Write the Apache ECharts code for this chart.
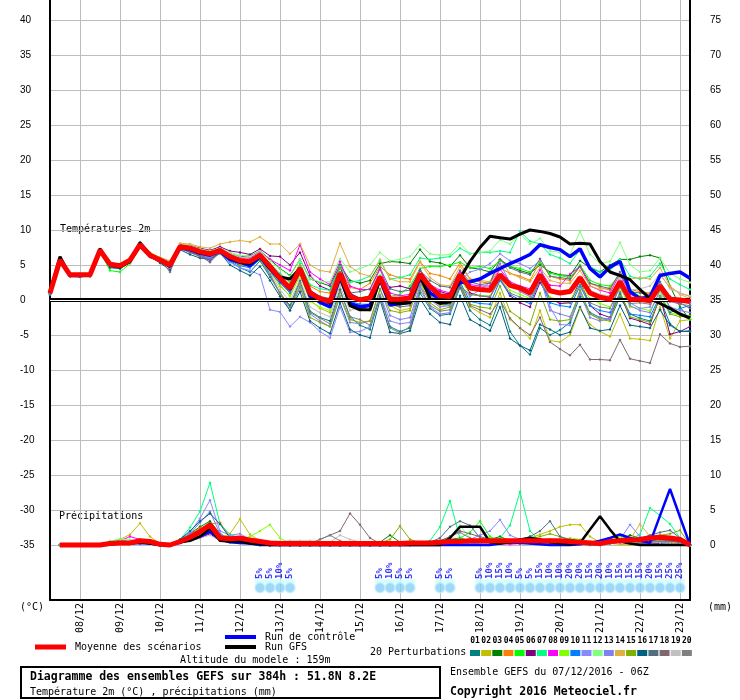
<!DOCTYPE html>
<html>
<head>
<meta charset="utf-8">
<script src="https://cdn.jsdelivr.net/npm/echarts@6/dist/echarts.min.js"></script>
<style>
html,body{margin:0;padding:0;background:#fff;}
#chart{width:740px;height:700px;}
</style>
</head>
<body>
<div id="chart"></div>
<script>
// ========= données =========
const dayLabels = ['07/12','08/12','09/12','10/12','11/12','12/12','13/12','14/12','15/12',
                   '16/12','17/12','18/12','19/12','20/12','21/12','22/12','23/12'];
const tempTicks = [-35,-30,-25,-20,-15,-10,-5,0,5,10,15,20,25,30,35,40];
const rainTicks = [0,5,10,15,20,25,30,35,40,45,50,55,60,65,70,75];

// couleurs des 20 perturbations
const pertColors = ['#008080','#c0c000','#008000','#ff8000','#00ff00','#800080','#00ff80','#ff00ff','#80ff00','#0080ff',
                    '#8888ff','#80ff80','#8080ee','#e0b040','#80b000','#006080','#507080','#806870','#c0c0c0','#808080'];

// température 2m (pas de 6h, 07/12 06Z -> 23/12 06Z)
const tMean = [1.0,5.7,3.6,3.6, 3.6,7.1,5.1,4.9, 5.7,7.9,6.4,5.7, 5.0,7.6,7.4,6.9, 6.6,7.1,6.2,5.6, 5.5,6.4,4.8,3.1,
  1.7,4.5,1.0,0.2, -0.2,3.8,0.5,0.0, 0.3,3.3,0.1,0.1, 0.3,3.7,1.9,0.6, 0.5,3.6,1.7,1.5, 1.4,3.6,2.1,1.7,
  1.0,3.6,1.3,1.0, 1.2,3.2,1.0,0.4, 0.1,2.6,0.1,0.1, -0.1,2.0,0.1,0.0, -0.2];
const tGfs = [1.0,6.2,3.5,3.5, 3.5,7.3,5.0,4.7, 5.5,8.2,6.5,5.6, 4.8,7.7,7.3,6.7, 6.5,7.0,6.0,5.4, 5.2,6.3,4.5,3.3,
  3.0,4.5,1.2,0.3, -0.5,3.5,-0.8,-1.4, -1.4,3.0,-0.4,-0.5, -0.4,3.5,0.2,-0.5, -0.3,3.1,5.5,7.5, 9.1,8.9,8.7,9.4,
  10.0,9.8,9.5,9.0, 8.0,8.1,8.0,5.5, 4.0,3.5,2.9,1.5, 0.2,-0.5,-1.2,-2.0, -2.6];
const tCtrl = [1.0,5.8,3.5,3.5, 3.6,7.0,5.2,4.8, 5.6,7.8,6.3,5.7, 5.0,7.5,7.2,6.7, 6.4,7.0,5.8,5.4, 4.9,6.2,4.5,2.9,
  1.5,4.3,0.6,-0.3, -1.0,3.3,-0.5,-1.0, -0.8,3.0,-0.7,-0.5, -0.3,3.2,1.0,0.2, 0.8,2.5,2.6,3.0, 3.8,4.5,5.2,5.8,
  6.5,7.9,7.5,7.2, 6.2,7.3,4.5,3.3, 4.7,5.5,1.2,0.2, 0.4,3.5,3.8,4.0, 3.1];

const t01 = [0.7,5.5,3.4,3.3,3.4,6.8,4.6,4.5,5.4,7.6,6.1,5.5,4.6,7.3,6.9,6.4,6.0,6.7,
  5.5,4.6,4.0,5.6,3.3,1.0,-0.8,2.8,-1.6,-2.5,-3.0,1.5,-2.4,-3.6,-4.2,0.5,-3.8,-4.5,-4.0,1.0,-1.2,-2.2,-2.0,
  1.8,-1.5,-2.8,-3.6,0.2,-4.5,-6.5,-7.8,-4.0,-5.0,-4.3,-3.2,0.5,-1.8,-2.5,-2.8,0.4,-2.0,-2.6,-3.0,0.2,-3.4,-4.5,-4.5];
const t02 = [1.2,5.9,3.8,3.7,3.8,7.3,5.3,5.0,5.9,8.1,6.6,5.9,5.2,7.8,7.5,7.1,6.8,7.3,
  6.5,6.0,5.7,6.5,4.2,2.0,0.6,3.5,0.0,-1.2,-1.8,2.5,-0.5,-1.0,-1.5,2.8,-0.8,-1.5,-1.2,2.5,0.4,-0.9,-0.6,
  2.4,-1.0,-1.8,-2.5,1.0,-2.8,-4.0,-5.5,-1.5,-5.8,-6.0,-5.0,-1.2,-3.5,-4.5,-5.2,-2.0,-5.5,-5.6,-5.8,-1.0,-5.5,-3.0,-2.8];
const t03 = [1.0,5.6,3.5,3.5,3.5,7.0,4.8,4.7,5.6,7.8,6.4,5.8,5.1,7.7,7.6,7.0,6.8,7.3,
  6.6,6.2,6.3,7.0,5.8,4.5,3.5,5.8,3.0,2.5,2.0,5.0,2.8,2.4,2.8,5.2,5.5,5.4,5.2,7.2,5.5,5.3,4.8,
  6.4,4.6,4.4,4.0,5.8,4.8,4.2,3.8,5.0,4.0,3.6,3.5,5.6,4.6,4.0,5.0,5.8,5.8,6.2,6.4,6.0,2.0,-1.0,-2.8];
const t04 = [0.9,5.7,3.7,3.6,3.7,7.2,5.2,4.9,5.8,7.9,6.5,5.8,5.1,7.6,7.3,6.9,6.7,7.2,
  6.4,5.9,5.6,6.6,5.0,3.6,2.5,5.0,2.0,1.2,1.0,4.6,1.8,1.5,2.4,4.8,3.6,3.2,3.0,5.5,3.8,3.5,3.0,
  5.3,3.0,2.6,2.4,4.6,3.8,3.4,2.8,5.5,3.4,3.0,2.8,4.8,2.4,1.8,1.4,4.0,1.5,1.2,1.0,3.6,1.8,1.0,0.5];
const t05 = [1.1,5.6,3.4,3.4,3.5,6.9,4.2,4.0,5.2,7.5,6.3,5.6,4.9,7.5,7.4,6.9,6.5,7.0,
  6.0,5.4,5.3,6.2,4.6,3.0,1.5,4.3,0.8,0.0,-0.4,3.8,0.8,0.3,0.6,3.5,0.5,0.8,2.0,4.5,4.8,4.8,5.0,
  5.4,4.6,4.8,4.5,5.6,4.8,4.5,4.0,5.3,3.8,3.5,3.2,5.0,2.8,2.2,2.0,3.6,1.5,0.5,0.2,1.8,-1.2,-2.0,-2.8];
const t06 = [1.0,5.8,3.6,3.5,3.6,7.1,5.1,5.0,5.8,8.0,6.6,6.0,5.4,7.9,7.8,7.4,7.1,7.6,
  7.0,6.8,6.5,7.3,6.3,6.2,5.0,6.8,3.5,2.0,1.4,4.8,1.0,0.2,0.5,3.2,1.8,2.0,1.6,4.2,2.0,1.2,0.8,
  3.4,1.0,0.6,0.4,3.0,0.6,-0.4,-1.0,2.5,0.2,-0.5,-0.4,2.8,-0.8,-2.0,-2.5,1.0,-2.6,-3.0,-3.5,0.5,-4.9,-4.5,-3.8];
const t07 = [1.1,5.9,3.7,3.7,3.7,7.2,5.3,5.1,5.9,8.2,6.7,6.0,5.3,7.8,7.6,7.1,6.8,7.2,
  6.4,5.8,5.8,6.7,5.2,3.8,2.6,5.2,2.2,1.6,1.4,4.8,2.5,2.8,3.4,5.6,3.0,3.2,3.6,6.0,5.8,6.0,6.2,
  7.4,6.6,6.8,6.8,7.0,6.8,9.8,8.4,8.0,6.5,6.0,5.2,7.2,4.8,4.0,4.2,5.8,3.4,3.0,3.4,5.2,3.0,2.2,1.5];
const t08 = [0.9,5.7,3.6,3.5,3.6,7.0,5.0,4.8,5.6,7.8,6.3,5.6,4.5,7.4,7.1,6.5,5.6,7.0,
  6.2,6.0,6.0,6.9,5.8,5.0,4.2,7.9,4.0,3.0,2.2,5.5,2.0,1.5,1.5,4.4,1.0,0.6,0.8,4.3,2.2,1.4,1.0,
  4.0,2.2,2.0,2.0,4.4,2.6,2.0,1.6,4.3,2.1,2.0,3.7,4.8,2.0,1.4,1.0,3.8,0.8,0.4,0.0,2.0,-0.2,-0.4,-0.3];
const t09 = [1.0,5.6,3.5,3.6,3.5,7.0,5.0,4.9,5.7,7.9,6.3,5.6,5.0,7.6,7.5,7.0,6.7,7.2,
  6.3,5.5,5.3,6.1,4.2,2.2,0.5,3.6,-0.2,-1.0,-1.5,2.8,-0.5,-0.8,-0.7,2.8,-0.7,-0.8,-0.4,3.0,1.0,0.0,-0.2,
  3.0,0.8,0.6,0.6,3.0,1.4,0.8,0.2,2.8,0.4,0.0,0.0,2.2,0.2,-0.5,-1.0,1.8,-1.0,-1.2,-1.5,1.2,-1.8,-2.2,-2.6];
const t10 = [1.0,5.7,3.5,3.5,3.6,7.1,5.1,4.9,5.6,7.8,6.3,5.5,4.8,7.4,7.0,6.4,6.0,6.6,
  5.6,4.9,4.6,5.8,4.0,2.4,1.0,4.0,0.4,-0.5,-1.0,3.2,-0.2,-0.6,-0.6,3.0,-0.5,-0.7,-0.5,3.4,1.2,-0.4,-0.8,
  2.6,-0.2,-0.5,-0.6,2.8,0.8,0.0,-0.5,2.8,-0.4,-0.8,-1.0,2.0,-0.8,-1.5,-1.8,1.0,-2.0,-2.2,-2.4,0.6,-1.8,-1.2,-0.8];
const t11 = [0.8,5.5,3.4,3.4,3.5,6.9,4.9,4.7,5.5,7.7,6.2,5.4,4.6,7.2,6.9,6.5,6.0,6.6,
  5.4,4.6,4.2,3.6,-1.4,-1.7,-3.8,-2.4,-3.2,-4.5,-5.4,-1.0,-4.6,-4.5,-3.8,0.8,-3.0,-3.4,-3.2,1.8,0.0,-1.0,-0.8,
  2.8,4.0,4.4,5.2,6.6,5.6,5.2,4.5,5.6,-1.0,-3.5,-3.6,1.5,-2.0,-2.6,-2.8,3.8,-0.4,-1.2,-1.0,2.4,0.5,0.0,-0.5];
const t12 = [1.2,5.9,3.8,3.8,3.8,7.3,5.3,5.1,6.0,8.2,6.8,6.1,5.5,8.0,7.8,7.3,7.0,7.4,
  6.8,6.4,6.2,7.0,5.6,4.4,3.4,5.8,3.0,2.6,2.6,5.9,4.0,4.5,5.0,6.8,5.6,5.8,6.2,7.9,6.6,6.4,6.5,
  8.1,6.6,6.8,7.0,8.6,8.0,9.5,8.0,8.8,7.0,6.8,6.5,9.8,6.5,5.2,5.5,8.2,5.0,4.0,4.2,6.0,3.8,3.0,2.5];
const t13 = [0.9,5.6,3.5,3.4,3.4,6.8,4.8,4.6,5.4,7.6,6.2,5.5,4.8,7.3,7.0,6.5,6.2,6.8,
  5.8,5.0,4.8,5.9,3.5,1.0,-1.5,1.8,-2.0,-3.0,-3.8,0.5,-3.2,-3.4,-3.0,1.6,-2.2,-2.8,-2.5,2.0,-1.0,-2.0,-1.8,
  2.0,0.5,1.5,2.5,5.2,2.5,1.2,0.5,3.3,-1.5,-2.0,-2.4,1.0,-2.5,-3.0,-2.6,2.8,-0.8,-1.5,-1.8,1.4,-1.0,-1.5,-1.8];
const t14 = [1.1,5.8,3.7,3.7,3.7,7.2,5.2,5.0,5.9,8.1,6.7,6.1,5.6,8.1,8.0,7.6,7.4,8.0,
  8.3,8.5,8.3,9.0,8.0,8.0,6.6,8.0,5.0,4.2,4.0,8.1,4.8,3.8,3.4,5.8,3.0,2.6,2.6,5.4,3.2,2.2,2.0,
  4.8,3.0,2.8,2.6,5.8,3.8,3.2,2.6,4.6,2.8,2.4,2.4,4.2,2.0,1.5,1.8,3.6,3.0,3.2,3.0,4.6,2.0,0.8,0.2];
const t15 = [1.0,5.6,3.5,3.5,3.5,7.0,4.9,4.8,5.6,7.8,6.4,5.7,5.0,7.5,7.3,6.8,6.5,7.0,
  5.9,5.0,4.9,5.8,3.8,0.8,-1.0,2.0,-2.5,-3.2,-3.8,0.6,-2.8,-3.2,-3.0,1.5,-1.5,-1.8,-1.5,2.4,-0.4,-1.4,-1.0,
  2.2,-0.6,-1.0,-1.2,2.0,-1.6,-2.6,-3.5,1.0,-2.8,-3.0,-2.8,1.4,-2.0,-2.8,-3.0,1.2,-2.4,-2.8,-3.2,0.5,-2.0,-2.4,-2.2];
const t16 = [0.8,5.5,3.4,3.4,3.4,6.9,4.7,4.5,5.4,7.7,6.2,5.3,4.3,7.2,6.5,6.0,5.8,6.8,
  5.0,4.2,3.5,4.8,2.8,0.5,-1.5,1.2,-3.0,-4.0,-4.8,-0.4,-4.2,-5.0,-5.4,0.0,-4.6,-4.8,-4.4,0.2,-2.0,-3.2,-3.5,
  0.6,-2.8,-3.6,-4.4,-1.0,-5.5,-6.5,-7.2,-3.5,-4.2,-5.0,-4.6,-1.0,-4.0,-4.4,-4.2,-0.8,-3.6,-3.8,-4.0,-1.4,-3.6,-4.5,-4.4];
const t17 = [1.0,5.7,3.6,3.6,3.6,7.1,5.0,4.8,5.6,7.9,6.4,5.6,4.8,7.4,6.8,6.3,5.4,6.8,
  6.0,5.5,5.4,6.5,4.8,3.3,1.8,4.6,1.2,0.5,0.2,4.0,1.0,1.2,1.6,4.6,1.6,1.2,1.4,4.2,2.8,2.0,1.8,
  4.2,2.6,2.2,2.4,5.8,4.6,4.0,3.6,5.9,3.4,3.2,3.0,4.8,2.4,2.0,1.6,4.0,1.2,1.0,0.8,2.6,0.4,-0.4,-1.2];
const t18 = [0.9,5.8,3.6,3.6,3.6,7.1,5.1,4.9,5.7,8.0,6.5,5.8,4.0,7.5,6.8,6.2,5.8,7.0,
  6.0,5.4,5.2,6.3,4.6,2.8,1.2,4.0,0.4,-0.4,-1.0,3.2,-0.4,-0.8,-0.6,2.6,-0.6,-1.0,-0.8,2.6,0.6,-0.2,-0.4,
  2.0,-0.8,-1.4,-2.0,0.0,-2.6,-4.0,-5.0,-2.5,-6.0,-7.0,-7.9,-6.4,-8.5,-8.5,-8.6,-5.7,-8.4,-8.7,-9.0,-4.9,-6.2,-6.7,-6.6];
const t19 = [1.0,5.7,3.6,3.5,3.6,7.0,5.0,4.9,5.7,7.8,6.3,5.6,5.0,7.6,7.2,6.8,6.6,7.1,
  6.6,6.2,5.8,6.4,4.0,1.5,-0.2,3.0,-1.0,-1.8,-2.4,2.0,-1.5,-1.0,-0.8,3.0,0.4,0.4,0.6,3.6,1.8,0.4,0.2,
  3.4,1.6,1.4,1.2,3.4,2.2,1.8,1.2,3.8,1.5,1.2,1.5,3.4,1.4,0.8,0.6,3.0,1.4,1.6,2.0,3.8,1.6,1.0,0.6];
const t20 = [1.0,5.9,3.6,3.6,3.6,7.2,5.1,5.0,5.8,8.3,6.6,5.9,5.2,7.7,7.3,6.8,6.5,7.0,
  5.8,5.2,5.0,6.2,3.6,1.0,-1.0,2.5,-1.8,-2.6,-3.4,1.2,-2.4,-2.8,-3.6,0.6,-4.0,-4.7,-3.8,1.4,-0.8,-1.6,-1.4,
  2.0,0.8,0.6,0.5,3.0,1.0,0.4,0.0,2.8,0.2,-0.2,-0.4,2.2,-0.4,-1.0,-1.2,1.8,-0.5,-0.4,-0.6,2.2,-0.2,-0.6,-0.8];

// précipitations (mm / 6h), 13 valeurs par ligne
const pMean = [null,0,0,0,0,0,0.2,0.3,0.3,0.6,0.5,0.1,0,
  0.5,1.1,1.9,2.9,1.0,0.9,1.0,0.7,0.5,0.3,0.2,0.2,0.2,
  0.2,0.2,0.2,0.2,0.2,0.2,0.2,0.2,0.2,0.2,0.3,0.3,0.3,
  0.4,0.5,0.5,0.6,0.6,0.6,0.6,0.6,0.6,0.6,0.6,0.6,0.6,
  0.5,0.4,0.3,0.2,0.5,0.6,0.7,0.8,1.0,1.1,1.0,0.8,0];
const pGfs = [null,0,0,0,0,0,0.1,0.2,0.2,0.4,0.2,0,0,
  0.4,0.6,1.2,2.4,0.6,0.5,0.5,0.2,0.1,0,0,0,0,
  0,0,0,0,0,0,0,0,0,0,0,0,0,
  0,1.0,2.6,2.6,2.6,0.4,0.2,0.4,0.8,1.0,0.8,0.4,0.2,
  0.1,0.3,2.2,4.1,2.2,0.5,0.2,0,0,0,0,0,0];
const pCtrl = [null,0,0,0,0,0,0.1,0.2,0.2,0.3,0.2,0,0,
  0.3,0.8,1.2,1.9,0.8,0.4,0.3,0.2,0,0,0,0,0,
  0,0,0,0,0,0,0,0,0,0,0,0,0,
  0,0,0,0,0,0,0.2,0.4,0.3,0.2,0.1,0,0,
  0,0.1,0.3,0.6,1.0,1.5,1.0,0.6,0.3,4.2,8.0,4.0,0];

const p01 = [null,0,0,0,0,0,0.2,0.4,0.3,0.6,0.4,0,0, 0.5,1.2,2.0,3.2,1.2,0.8,0.8,0.5,0.3,0.2,0,0,0,
  0,0,0,0,0.3,0.2,0,0,0,0,0.4,0.3,0.2, 0.5,0.4,0.6,0.3,0.2,0.4,0.8,0.6,0.5,1.2,0.8,0.4,0.4, 0.3,0.2,0.1,0,0.4,0.6,0.8,0.6,0.8,1.2,0.6,0.4,0];
const p02 = [null,0,0,0,0,0,0.3,0.8,1.5,3.1,1.2,0.2,0, 0.6,1.5,2.4,2.0,1.0,1.6,3.7,1.5,0.6,0.2,0,0,0,
  0,0,0,0,0,0,0,0,0,0,0.2,0.1,0, 0.2,0.6,0.4,0.3,0.5,0.8,0.4,0.2,0.6,1.0,1.5,2.0,2.6, 2.9,2.9,1.2,0.4,0.2,0.1,0,0.3,0.6,0.4,0.2,0.2,0];
const p03 = [null,0,0,0,0,0,0.2,0.3,0.2,0.5,0.3,0,0, 0.8,1.6,2.6,3.4,1.6,0.8,0.6,0.4,0.2,0,0,0,0,
  0,0,0,0,0,0,0,0.4,1.4,0.4,0.2,0.3,0.2, 0.4,0.8,1.0,0.6,0.4,0.8,1.2,0.6,0.3,0.2,0.4,0.8,0.5, 0.3,0.2,0.2,0.1,0.4,0.8,1.4,1.0,0.5,0.3,0.2,0.1,0];
const p04 = [null,0,0,0,0,0,0.4,0.6,0.3,0.4,0.3,0,0, 0.6,1.4,2.4,3.0,3.2,1.2,0.8,0.4,0.2,0,0,0,0,
  0,0,0,0,0,0,0,0,0,0,0,0.2,0.1, 0.2,0.4,0.5,0.3,0.3,0.6,0.4,0.3,0.2,0.4,0.5,0.3,0.2, 0.2,0.3,0.4,0.2,0.3,0.8,0.5,0.3,0.6,0.8,0.5,0.3,0];
const p05 = [null,0,0,0,0,0,0.5,0.8,0.4,0.3,0.2,0,0, 0.4,1.0,1.8,2.6,1.0,0.6,0.5,0.3,0.1,0,0,0,0,
  0,0,0,0,0,0,0,0,0,0,0.2,0.4,0.3, 0.2,0.5,1.0,1.8,3.4,1.2,0.6,0.3,0.2,0.3,0.4,0.6,0.4, 0.3,0.2,0.1,0.2,0.5,0.6,0.8,1.0,0.6,0.4,0.3,0.4,0];
const p06 = [null,0,0,0,0,0,0.2,0.3,0.4,0.3,0.2,0,0, 0.3,0.6,1.0,1.6,0.6,0.4,0.3,0.2,0,0,0,0,0,
  0,0,0,0,0,0,0,0,0,0,0.1,0.2,0.1, 0.2,0.3,0.4,0.6,0.5,0.8,0.4,0.2,0.3,0.5,0.3,0.2,0.5, 0.8,0.6,0.4,0.2,0.3,0.5,0.6,0.4,0.3,0.2,0.4,0.3,0];
const p07 = [null,0,0,0,0,0,0.3,0.5,0.4,0.6,0.4,0,0, 0.8,2.5,4.8,8.9,3.0,1.5,1.0,0.6,0.3,0.1,0,0,0,
  0,0,0,0,0,0,0,0,0,0,0.2,0.4,0.6, 2.6,6.3,0.9,0.5,0.4,0.6,1.0,2.8,7.6,2.0,0.6,0.4,0.5, 0.4,0.3,0.2,0.1,0.3,0.5,0.8,1.5,5.3,4.2,3.0,1.0,0];
const p08 = [null,0,0,0,0,0,0.2,0.6,1.2,0.8,0.3,0,0, 0.3,0.8,1.2,1.8,0.8,0.6,0.5,0.3,0.1,0,0,0,0,
  0,0,0,0,0,0,0,0,0,0,0,0.1,0.2, 0.3,0.2,0.1,0.2,0.4,0.3,0.2,0.1,0.2,0.3,0.2,0.1,0.2, 0.3,0.2,0.1,0.2,0.3,0.4,0.3,0.2,0.3,0.5,0.3,0.2,0];
const p09 = [null,0,0,0,0,0,0.2,0.3,0.3,0.4,0.2,0,0, 0.4,0.8,1.4,2.0,1.0,0.6,0.8,1.2,2.0,2.9,1.0,0.2,0,
  0,0,0,0,0,0,0,0,0,0,0,0.2,0.3, 0.4,0.6,0.5,0.4,0.6,1.0,0.5,0.3,0.4,0.6,0.4,0.3,0.6, 1.0,0.8,0.5,0.3,0.6,1.2,1.0,0.6,0.4,0.6,0.8,0.5,0];
const p10 = [null,0,0,0,0,0,0.1,0.2,0.2,0.3,0.2,0,0, 0.4,0.9,1.6,2.8,1.0,0.6,0.4,0.2,0,0,0,0,0,
  0,0,0,0,0,0,0,0,0,0,0.1,0.2,0.2, 0.3,0.4,0.5,0.3,0.2,0.3,0.5,0.4,0.3,0.2,0.3,0.4,0.3, 0.2,0.1,0,0,0.2,0.4,0.6,0.8,0.6,0.4,0.3,0.2,0];
const p11 = [null,0,0,0,0,0,0.3,0.6,0.5,0.4,0.3,0,0, 0.6,1.8,3.8,6.4,2.0,1.4,1.6,0.8,0.3,0,0,0,0,
  0,0,0,0,0,0,0,0,0,0,0.2,0.3,0.2, 0.3,0.4,0.6,0.8,1.4,2.0,3.6,1.4,0.8,0.4,0.3,0.2,0.3, 0.2,0.3,0.2,0.1,0.4,0.8,2.9,1.2,0.6,0.4,0.3,0.2,0];
const p12 = [null,0,0,0,0,0,0.6,0.8,0.8,0.5,0.3,0,0, 0.4,1.0,1.8,2.4,1.2,0.6,0.4,0.2,0,0,0,0,0,
  0,0,0,0,0,0,0,0,0,0,0.2,0.2,0.3, 0.6,1.2,2.8,1.0,0.6,0.4,0.3,0.5,0.6,0.4,0.3,0.4,0.3, 0.2,0.3,0.4,0.6,0.8,0.5,0.3,0.4,0.6,0.8,1.0,0.6,0];
const p13 = [null,0,0,0,0,0,0.2,0.3,0.4,0.3,0.2,0,0, 0.6,1.6,3.2,4.8,1.6,0.8,0.6,0.4,0.2,0,0,0,0,
  0,0,0,0,0,0,0,0,0,0,0.2,0.3,0.2, 0.3,0.4,0.3,0.2,0.3,0.4,0.6,0.4,0.3,0.2,0.3,0.4,0.3, 0.2,0.3,0.2,0.3,0.5,0.6,0.8,0.5,0.4,0.6,0.8,0.4,0];
const p14 = [null,0,0,0,0,0,0.2,0.3,0.3,0.4,0.3,0,0, 0.4,1.0,1.6,2.2,1.2,0.6,0.4,0.3,0.1,0,0,0,0,
  0,0,0,0,0,0,0,0,0,0,0.1,0.2,0.2, 0.3,0.2,0.3,0.4,0.3,0.2,0.4,0.6,0.4,0.3,0.5,0.4,0.3, 0.2,0.3,0.4,0.2,0.3,0.5,0.8,3.0,1.2,0.6,0.4,0.3,0];
const p15 = [null,0,0,0,0,0,0.2,0.4,0.3,0.5,0.3,0,0, 0.5,1.2,2.0,2.6,1.2,0.8,0.6,0.4,0.2,0,0,0,0,
  0,0,0,0,0,0,0,0.3,0.8,2.7,0.8,0.3,0.2, 0.2,0.4,0.5,0.4,0.3,0.6,0.8,0.5,0.4,0.8,1.2,1.6,1.2, 0.6,0.4,0.3,0.2,0.3,0.6,0.8,1.0,1.2,1.4,1.6,2.1,0];
const p16 = [null,0,0,0,0,0,0.2,0.3,0.2,0.4,0.3,0,0, 0.8,2.0,3.4,4.5,3.0,1.0,0.6,0.4,0.2,0,0,0,0,
  0,0,0,0,0,0,0,0,0,0,0.1,0.2,0.3, 0.4,0.6,0.8,0.6,0.4,0.6,0.8,0.6,0.4,0.6,0.8,0.6,0.5, 0.4,0.3,0.2,0.4,0.6,0.8,0.6,0.4,0.6,0.8,0.6,0.4,0];
const p17 = [null,0,0,0,0,0,0.2,0.3,0.3,0.4,0.3,0,0, 0.5,1.2,2.2,3.0,1.4,0.8,0.6,0.4,0.2,0,0,0,0,
  0,0,0,0,0,0,0,0,0,0,0.1,0.2,0.4, 1.0,2.6,3.4,2.8,1.0,0.6,0.4,0.6,0.8,1.2,2.0,3.4,1.2, 0.8,0.6,0.4,0.3,0.4,0.6,0.8,1.0,1.4,1.8,2.1,1.0,0];
const p18 = [null,0,0,0,0,0,0.2,0.3,0.2,0.3,0.2,0,0, 0.4,0.8,1.4,2.0,0.8,0.5,0.4,0.3,0.1,0,0,0,0,
  0.2,0.8,1.4,2.0,4.5,2.9,1.0,0.2,0,0,0,0.2,0.3, 0.6,1.2,2.0,1.6,1.2,0.8,0.4,0.3,0.2,0.4,0.3,0.2,0.4, 0.3,0.2,0.2,0.1,0.2,0.4,0.3,0.2,0.3,0.4,0.6,0.4,0];
const p19 = [null,0,0,0,0,0,0.1,0.2,0.2,0.3,0.2,0,0, 0.3,0.6,1.0,1.4,0.6,0.4,0.3,0.2,0.3,0.4,0.5,0.6,0.6,
  0.6,0.5,0.4,1.4,0.8,0.4,0.2,0,0,0,0,0.1,0.2, 0.3,0.2,0.3,0.4,0.3,0.2,0.3,0.4,0.3,0.2,0.3,0.4,0.3, 0.2,0.3,0.2,0.1,0.3,0.4,0.6,0.5,0.4,0.3,0.2,0.1,0];
const p20 = [null,0,0,0,0,0,0.2,0.4,0.3,0.2,0.2,0,0, 0.4,0.9,1.6,2.6,1.0,0.6,0.4,0.2,0.1,0,0,0,0,
  0.2,0.8,1.4,0.6,0.2,0,0,0,0,0,0,0.1,0.2, 0.3,1.2,1.8,1.0,0.4,0.3,0.2,0.3,0.4,0.3,0.2,0.3,0.4, 0.3,0.2,0.1,0.2,0.3,0.4,0.5,0.4,0.3,0.6,0.8,0.5,0];

// probabilité de neige (%)
const snowPct = [null,null,null,null, null,null,null,null, null,null,null,null, null,null,null,null,
  null,null,null,null, null,5,5,10, 5,null,null,null, null,null,null,null, null,5,10,5, 5,null,null,5,
  5,null,null,5, 10,15,10,5, 5,15,10,10, 20,20,15,20, 10,15,15,15, 20,15,25,25, null];

const tPerts = [t01,t02,t03,t04,t05,t06,t07,t08,t09,t10,t11,t12,t13,t14,t15,t16,t17,t18,t19,t20];
const pPerts = [p01,p02,p03,p04,p05,p06,p07,p08,p09,p10,p11,p12,p13,p14,p15,p16,p17,p18,p19,p20];

// ========= axe du temps =========
const steps = [];
['06Z','12Z','18Z'].forEach(h => steps.push(dayLabels[0] + ' ' + h));
dayLabels.slice(1).forEach(d => ['00Z','06Z','12Z','18Z'].forEach(h => steps.push(d + ' ' + h)));
steps.length = tMean.length;

// échelles : 7 px par unité, -35°C aligné avec 0 mm
const tMin = -35 - 55 / 7, tMax = 40 + 20 / 7;
const snowRow = -41.1, bandRow = -40.2;
const MONO = '"DejaVu Sans Mono", monospace';

// ========= séries =========
const series = [];
series.push({
    type: 'line', data: tMean.map(() => null), silent: true, z: 1,
    markLine: {
        silent: true, symbol: 'none', label: {show: false}, animation: false,
        data: [
            {yAxis: 0, lineStyle: {color: '#000', width: 4, type: 'solid'}},
            {yAxis: 0, lineStyle: {color: '#fff', width: 1.2, type: 'solid'}}
        ]
    }
});

function lineSerie(data, color, width, yIdx, z, sym){
    return {
        type: 'line', data, yAxisIndex: yIdx, z,
        lineStyle: {color, width},
        itemStyle: {color},
        symbol: sym ? 'diamond' : 'none', symbolSize: 3, showSymbol: !!sym,
        connectNulls: false, silent: true
    };
}
tPerts.forEach((d, k) => series.push(lineSerie(d, pertColors[k], 1, 0, 2, true)));
pPerts.forEach((d, k) => series.push(lineSerie(d, pertColors[k], 1, 1, 2, true)));
series.push(lineSerie(tCtrl, '#0000ff', 3.5, 0, 3, false));
series.push(lineSerie(pCtrl, '#0000ff', 2.5, 1, 3, false));
series.push(lineSerie(tGfs, '#000000', 3, 0, 4, false));
series.push(lineSerie(pGfs, '#000000', 2.5, 1, 4, false));
series.push(lineSerie(tMean, '#ff0000', 5, 0, 5, false));
series.push(lineSerie(pMean, '#ff0000', 5, 1, 5, false));

// neige : bandeau, flocons, pourcentages
series.push({
    type: 'scatter', z: 6, silent: true, symbol: 'rect', symbolSize: [10, 4],
    itemStyle: {color: '#c8ffff'},
    data: snowPct.map(p => p == null ? null : bandRow)
});
series.push({
    type: 'scatter', z: 7, silent: true, symbol: 'circle', symbolSize: 10,
    itemStyle: {color: '#86d0f6', borderColor: '#c4eeff', borderWidth: 1.5},
    data: snowPct.map(p => p == null ? null : snowRow),
    label: {
        show: true, position: 'top', distance: 3, rotate: 90,
        align: 'left', verticalAlign: 'middle',
        color: '#0000ff', fontFamily: MONO, fontWeight: 'bold', fontSize: 9,
        formatter: p => snowPct[p.dataIndex] + '%'
    }
});

// ========= textes et légende =========
function txt(x, y, text, opt){
    return {type: 'text', x, y, silent: true,
        style: Object.assign({text, fill: '#000', font: '10px ' + MONO, textVerticalAlign: 'middle'}, opt || {})};
}
function seg(x1, y1, x2, y2, color, w){
    return {type: 'line', silent: true, shape: {x1, y1, x2, y2}, style: {stroke: color, lineWidth: w}};
}
const graphic = [
    txt(60, 229, 'Températures 2m'),
    txt(59, 516, 'Précipitations'),
    txt(20, 607, '(°C)'),
    txt(708, 607, '(mm)'),
    seg(35, 647, 66, 647, '#ff0000', 5),
    txt(75, 647, 'Moyenne des scénarios'),
    seg(225, 637, 256, 637, '#0000ff', 4),
    txt(265, 637, 'Run de contrôle'),
    seg(225, 647, 256, 647, '#000000', 4),
    txt(265, 647, 'Run GFS'),
    txt(180, 660, 'Altitude du modele : 159m'),
    txt(370, 652, '20 Perturbations'),
    {type: 'rect', silent: true, shape: {x: 21, y: 667, width: 419, height: 31},
        style: {fill: 'none', stroke: '#000', lineWidth: 2}},
    txt(30, 677, 'Diagramme des ensembles GEFS sur 384h : 51.8N 8.2E', {font: 'bold 11.5px ' + MONO}),
    txt(30, 692, 'Température 2m (°C) , précipitations (mm)'),
    txt(450, 672, 'Ensemble GEFS du 07/12/2016 - 06Z'),
    txt(450, 692, 'Copyright 2016 Meteociel.fr', {font: 'bold 11.5px ' + MONO})
];
pertColors.forEach((c, k) => {
    const x = 470 + k * 11.15;
    graphic.push({type: 'rect', silent: true, shape: {x, y: 650, width: 10, height: 6}, style: {fill: c}});
    graphic.push(txt(x + 5, 641, String(k + 1).padStart(2, '0'),
        {font: 'bold 8px ' + MONO, textAlign: 'center'}));
});

// ========= graphique =========
const chart = echarts.init(document.getElementById('chart'), null, {renderer: 'canvas'});
chart.setOption({
    animation: false,
    backgroundColor: '#fff',
    grid: {left: 50, right: 50, top: 0, bottom: 100, containLabel: false},
    xAxis: {
        type: 'category', data: steps, boundaryGap: false,
        axisLine: {show: true, onZero: false, lineStyle: {color: '#000', width: 2}},
        axisTick: {show: false},
        axisLabel: {
            interval: i => i % 4 === 3, rotate: 90, margin: 3,
            fontFamily: MONO, fontSize: 10, color: '#000', padding: [12, 0, 0, 0],
            formatter: v => v.slice(0, 5)
        },
        splitLine: {show: true, interval: i => i % 4 === 3, lineStyle: {color: '#bdbdbd', width: 1}}
    },
    yAxis: [{
        type: 'value', position: 'left', min: tMin, max: tMax,
        axisLine: {show: true, onZero: false, lineStyle: {color: '#000', width: 2}},
        axisTick: {show: false, customValues: tempTicks},
        axisLabel: {customValues: tempTicks, align: 'left', margin: 30,
            fontFamily: 'Liberation Sans', fontSize: 10, color: '#000'},
        splitLine: {show: true, lineStyle: {color: '#bdbdbd', width: 1}}
    }, {
        type: 'value', position: 'right', min: tMin + 35, max: tMax + 35,
        axisLine: {show: true, onZero: false, lineStyle: {color: '#000', width: 2}},
        axisTick: {show: false, customValues: rainTicks},
        axisLabel: {customValues: rainTicks, margin: 20,
            fontFamily: 'Liberation Sans', fontSize: 10, color: '#000'},
        splitLine: {show: false}
    }],
    graphic,
    series
});
</script>
</body>
</html>
